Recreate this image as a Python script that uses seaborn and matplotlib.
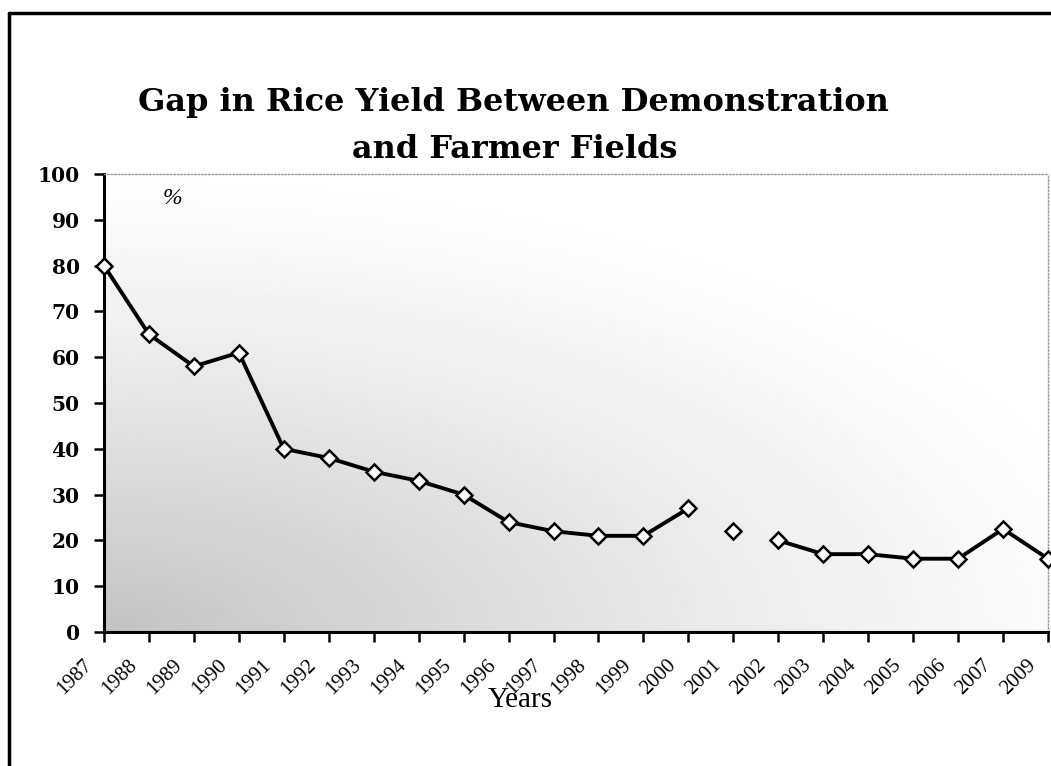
import numpy as np
import pandas as pd
import matplotlib
matplotlib.use("Agg")
import matplotlib.pyplot as plt
import matplotlib.transforms as mtransforms
from matplotlib.lines import Line2D
import seaborn as sns

# ---- data ----
years = ["1987", "1988", "1989", "1990", "1991", "1992", "1993", "1994", "1995",
         "1996", "1997", "1998", "1999", "2000", "2001", "2002", "2003", "2004",
         "2005", "2006", "2007", "2009"]
gap = [80, 65, 58, 61, 40, 38, 35, 33, 30, 24, 22, 21, 21, 27,
       22, 20, 17, 17, 16, 16, 22.5, 16]
segment = [0] * 14 + [1] + [2] * 7
y_ticks = list(range(0, 101, 10))

df = pd.DataFrame({"pos": np.arange(len(years)), "gap": gap, "segment": segment})

sns.set_theme(style="white")
plt.rcParams["font.family"] = ["Liberation Serif", "DejaVu Serif"]
plt.rcParams["text.color"] = "black"
plt.rcParams["xtick.color"] = "black"
plt.rcParams["ytick.color"] = "black"
plt.rcParams["axes.labelcolor"] = "black"

W, H = 1051, 766
fig = plt.figure(figsize=(W / 100, H / 100), dpi=100)
ax = fig.add_axes([104 / W, 1 - 632 / H, (1048 - 104) / W, (632 - 174) / H])

# stippled-looking background gradient (dense lower-left, fading to upper-right)
u, v = np.meshgrid(np.linspace(0, 1, 300), np.linspace(0, 1, 300))
d = np.sqrt((u / 1.0) ** 2 + (v / 0.9) ** 2)
shade = 1 - 0.24 * np.clip(1 - d / 1.15, 0, 1) ** 1.3
ax.imshow(shade, extent=(0, len(years) - 1, 0, 100), origin="lower",
          aspect="auto", cmap="gray", vmin=0, vmax=1, zorder=0,
          interpolation="bilinear")

sns.lineplot(data=df, x="pos", y="gap", units="segment", estimator=None,
             color="black", linewidth=2.8, marker="D", markersize=8,
             markerfacecolor="white", markeredgecolor="black",
             markeredgewidth=1.8, ax=ax, clip_on=False, zorder=3)

ax.set_xlim(0, len(years) - 1)
ax.set_ylim(0, 100)
ax.set_xticks(df["pos"])
ax.set_xticklabels(years, rotation=45, ha="right", va="center",
                   rotation_mode="anchor", fontsize=15)
ax.set_yticks(y_ticks)
ax.set_yticklabels([str(t) for t in y_ticks], fontsize=14.5, fontweight="bold",
                   family="DejaVu Serif")
ax.set_xlabel("")
ax.set_ylabel("")
ax.grid(False)

ax.tick_params(axis="both", which="major", direction="out", length=7,
               width=1.8, color="black", bottom=True, left=True,
               labelcolor="black")
ax.tick_params(axis="y", pad=10.5)
ax.tick_params(axis="x", pad=15)

offset = mtransforms.ScaledTranslation(-15 / 100, 0 / 100, fig.dpi_scale_trans)
for lab in ax.get_xticklabels():
    lab.set_transform(lab.get_transform() + offset)

for side in ["left", "bottom"]:
    ax.spines[side].set_color("black")
    ax.spines[side].set_linewidth(2.2)
for side in ["top", "right"]:
    ax.spines[side].set_color("#999999")
    ax.spines[side].set_linewidth(1.0)
    ax.spines[side].set_linestyle((0, (1, 1.5)))

ax.text((172 - 104) / 944, (632 - 199) / 458, "%", fontsize=17,
        fontstyle="italic", ha="center", va="center", transform=ax.transAxes)

fig.text(513 / W, 1 - 103 / H, "Gap in Rice Yield Between Demonstration",
         ha="center", va="center", fontsize=23, fontweight="bold",
         family="DejaVu Serif", color="black")
fig.text(515 / W, 1 - 149 / H, "and Farmer Fields",
         ha="center", va="center", fontsize=23, fontweight="bold",
         family="DejaVu Serif", color="black")
fig.text(520 / W, 1 - 700 / H, "Years", ha="center", va="center", fontsize=21,
         color="black")

# outer frame (left and top edges)
fig.add_artist(Line2D([9 / W, 9 / W], [0, 1 - 13 / H], color="black",
                      linewidth=2.5, transform=fig.transFigure))
fig.add_artist(Line2D([9 / W, 1], [1 - 13 / H, 1 - 13 / H], color="black",
                      linewidth=2.5, transform=fig.transFigure))

fig.savefig("out.png", dpi=100)
